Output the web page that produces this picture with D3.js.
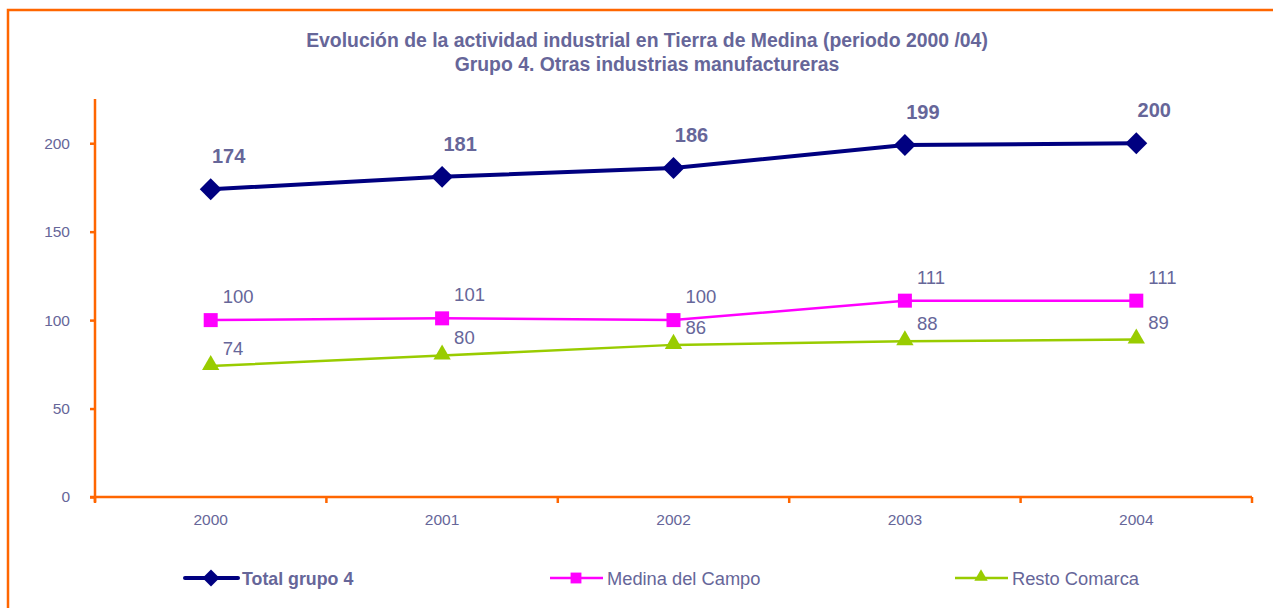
<!DOCTYPE html>
<html>
<head>
<meta charset="utf-8">
<script src="https://cdn.jsdelivr.net/npm/d3@7"></script>
<style>
  body { margin: 0; background: #fff; }
  text { font-family: "Liberation Sans", Arial, sans-serif; }
</style>
</head>
<body>
<div id="vis"></div>
<script>
// data
const years = ['2000', '2001', '2002', '2003', '2004']
const totalGrupo4 = [174, 181, 186, 199, 200]
const medinaDelCampo = [100, 101, 100, 111, 111]
const restoComarca = [74, 80, 86, 88, 89]
const yTicks = [0, 50, 100, 150, 200]
const titleLines = ['Evolución de la actividad industrial en Tierra de Medina (periodo 2000 /04)',
                    'Grupo 4. Otras industrias manufactureras']

const orange = '#FF6600'
const textColor = '#666699'
const font = '"Liberation Sans", Arial, sans-serif'

// diamond = square turned 45 degrees
const series = [
    {name: 'Total grupo 4', values: totalGrupo4, color: '#000080', width: 4, symbol: d3.symbolSquare, rotate: 45, size: 240, bold: true, fontSize: 20, dx: 18, dy: -26, anchor: 'middle', legendX: 185},
    {name: 'Medina del Campo', values: medinaDelCampo, color: '#FF00FF', width: 2.5, symbol: d3.symbolSquare, rotate: 0, size: 196, bold: false, fontSize: 18.5, dx: 12, dy: -17, anchor: 'start', legendX: 550},
    {name: 'Resto Comarca', values: restoComarca, color: '#99CC00', width: 2.5, symbol: d3.symbolTriangle, rotate: 0, size: 130, bold: false, fontSize: 18.5, dx: 12, dy: -11, anchor: 'start', legendX: 955}
]

const W = 1273, H = 608
const margin = {left: 95, right: 21, top: 99, bottom: 111}

let svg = d3.select('#vis').append('svg')
    .attr('width', W)
    .attr('height', H)

// outer frame (only top and left visible in the crop)
svg.append('rect')
    .attr('x', 8).attr('y', 10)
    .attr('width', W + 20).attr('height', H + 20)
    .attr('fill', 'none')
    .attr('stroke', orange)
    .attr('stroke-width', 2.5)

svg.selectAll('.title')
    .data(titleLines)
    .enter()
    .append('text')
        .attr('class', 'title')
        .text(d => d)
        .attr('x', 647)
        .attr('y', (d, i) => 47 + i * 24)
        .attr('text-anchor', 'middle')
        .attr('font-size', 19.4)
        .attr('font-weight', 'bold')
        .attr('fill', textColor)

let xScale = d3.scaleBand(years, [margin.left, W - margin.right])
let yScale = d3.scaleLinear([0, 225], [H - margin.bottom, margin.top])

// y axis
let yAxis = d3.axisLeft(yScale).tickValues(yTicks).tickSize(5).tickPadding(20)
svg.append('g')
    .attr('transform', `translate(${margin.left}, 0)`)
    .call(yAxis)
    .call(g => g.select('.domain').attr('stroke', orange).attr('stroke-width', 2.5).attr('d', `M0,${yScale(0) + 5}V${margin.top}`))
    .call(g => g.selectAll('.tick line').attr('stroke', orange).attr('stroke-width', 2.5))
    .call(g => g.selectAll('.tick text').attr('fill', textColor).attr('font-size', 15.5).attr('font-family', font))

// x axis: ticks between categories
let xAxis = d3.axisBottom(xScale).tickSize(0).tickPadding(17)
let xAxisGroup = svg.append('g')
    .attr('transform', `translate(0, ${yScale(0)})`)
    .call(xAxis)
    .call(g => g.select('.domain').attr('stroke', orange).attr('stroke-width', 2.5).attr('d', `M${margin.left - 5},0H${W - margin.right}`))
    .call(g => g.selectAll('.tick text').attr('fill', textColor).attr('font-size', 15.5).attr('font-family', font))

xAxisGroup.selectAll('.sep')
    .data(years.concat(['end']))
    .enter()
    .append('line')
        .attr('x1', (d, i) => margin.left + i * xScale.step())
        .attr('x2', (d, i) => margin.left + i * xScale.step())
        .attr('y1', 0).attr('y2', 6)
        .attr('stroke', orange)
        .attr('stroke-width', 2.5)

const cx = d => xScale(d) + xScale.bandwidth() / 2

let line = d3.line()
    .x((d, i) => cx(years[i]))
    .y(d => yScale(d))

series.forEach(s => {
    let g = svg.append('g')
    let shiftY = s.symbol === d3.symbolTriangle ? -1 : 0

    g.append('path')
        .datum(s.values)
        .attr('d', line)
        .attr('fill', 'none')
        .attr('stroke', s.color)
        .attr('stroke-width', s.width)

    g.selectAll('.mark')
        .data(s.values)
        .enter()
        .append('path')
            .attr('d', d3.symbol(s.symbol, s.size))
            .attr('transform', (d, i) => `translate(${cx(years[i])}, ${yScale(d) + shiftY}) rotate(${s.rotate})`)
            .attr('fill', s.color)

    g.selectAll('.label')
        .data(s.values)
        .enter()
        .append('text')
            .text(d => d)
            .attr('x', (d, i) => cx(years[i]) + s.dx)
            .attr('y', d => yScale(d) + s.dy)
            .attr('text-anchor', s.anchor)
            .attr('font-size', s.fontSize)
            .attr('font-weight', s.bold ? 'bold' : 'normal')
            .attr('fill', textColor)

    // legend
    let lg = svg.append('g').attr('transform', `translate(${s.legendX}, 578)`)
    lg.append('line')
        .attr('x1', 0).attr('x2', 53)
        .attr('stroke', s.color)
        .attr('stroke-width', s.width)
        .attr('stroke-linecap', s.bold ? 'round' : 'butt')
    lg.append('path')
        .attr('d', d3.symbol(s.symbol, s.size * 0.6))
        .attr('transform', `translate(26, ${shiftY}) rotate(${s.rotate})`)
        .attr('fill', s.color)
    lg.append('text')
        .text(s.name)
        .attr('x', 57)
        .attr('y', 7)
        .attr('font-size', s.bold ? 17.8 : 18.3)
        .attr('font-weight', s.bold ? 'bold' : 'normal')
        .attr('fill', textColor)
})
</script>
</body>
</html>
